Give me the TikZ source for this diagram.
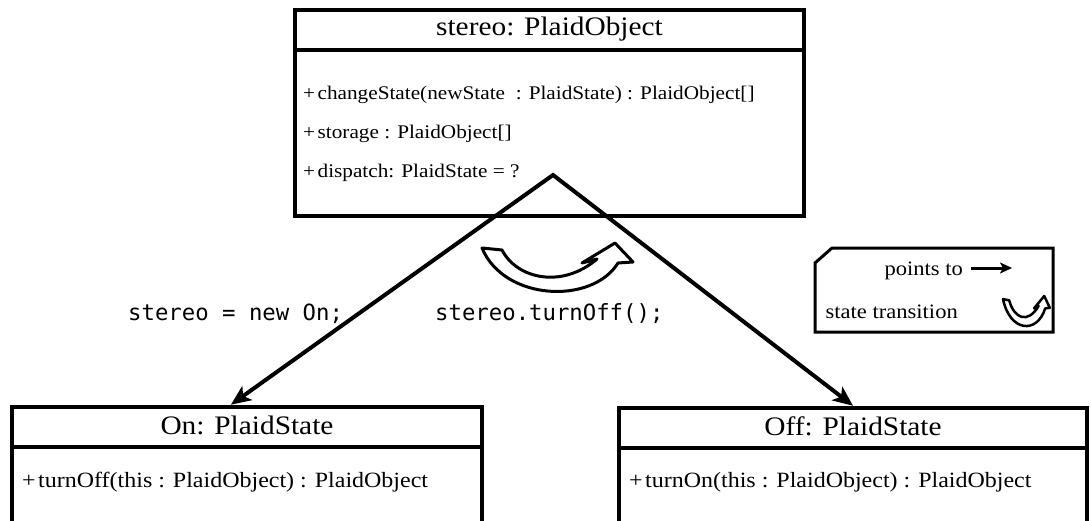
\documentclass[tikz,border=0pt]{standalone}
\usepackage{fontspec}
\setmainfont{Liberation Serif}[FakeStretch=1.1]
\setmonofont{DejaVu Sans Mono}
\usetikzlibrary{arrows.meta,calc}

\tikzset{
  % hollow curved arrow used for a state transition
  turnarrow/.pic={
    \draw[line join=round, fill=white]
      (0,5) -- (20,7) .. controls (35,36) and (80,46) .. (115,16)
      -- (100,20) -- (133,0) -- (151,19) -- (136,20)
      .. controls (110,62) and (22,58) .. (0,5) -- cycle;
  }
}
\newcommand{\plus}{+\kern2.5pt}

\begin{document}
\begin{tikzpicture}[x=1pt, y=-1pt,
  classbox/.style={draw=black, line width=4.5pt, rectangle, inner sep=0pt},
  divider/.style={draw=black, line width=4.5pt},
  classtitle/.style={anchor=base, inner sep=0pt, font=\fontsize{26.7}{30}\selectfont},
  member/.style={anchor=base west, inner sep=0pt, font=\fontsize{19.3}{22}\selectfont},
  opmember/.style={anchor=base west, inner sep=0pt, font=\fontsize{21.8}{25}\selectfont},
  code/.style={anchor=base west, inner sep=0pt, font=\ttfamily\fontsize{22.3}{26}\selectfont},
  legendtext/.style={anchor=base east, inner sep=0pt, font=\fontsize{20.5}{24}\selectfont},
  pointer/.style={line width=4pt, line join=miter},
]
\clip (0,0) rectangle (1091,521);
\fill[white] (0,0) rectangle (1091,521);

% the object
\node[classbox, minimum width=509pt, minimum height=206pt] (stereo) at (549.5,113) {};
\draw[divider] (stereo.west |- 0,50) -- (stereo.east |- 0,50);
\node[classtitle] (stereotitle) at (549.5,36) {stereo: PlaidObject};
\node[member] (changestate) at (303,100) {\plus changeState(newState\ \ : PlaidState) : PlaidObject[]};
\node[member] (storage) at (303,139) {\plus storage : PlaidObject[]};
\node[member] (dispatch) at (303,178) {\plus dispatch: PlaidState = ?};

% the two states
\node[classbox, minimum width=470pt, minimum height=153pt] (on) at (247,483.5) {};
\draw[divider] (on.west |- 0,447) -- (on.east |- 0,447);
\node[classtitle] (ontitle) at (247,434) {On: PlaidState};
\node[opmember] (turnoff) at (22,487) {\plus turnOff(this : PlaidObject) : PlaidObject};

\node[classbox, minimum width=468pt, minimum height=153pt] (off) at (853,484.5) {};
\draw[divider] (off.west |- 0,448) -- (off.east |- 0,448);
\node[classtitle] (offtitle) at (853,435) {Off: PlaidState};
\node[opmember] (turnon) at (629,487) {\plus turnOn(this : PlaidObject) : PlaidObject};

% dispatch pointers
\coordinate (apex) at (553,175);
\coordinate (ontip) at ($(on.north west)!0.466!(on.north east)$);
\coordinate (offtip) at (off.north);
\draw[pointer, {Stealth[length=20pt,width=17pt,inset=5pt]}-{Stealth[length=20pt,width=17pt,inset=5pt]}]
  (ontip) -- (apex) -- (offtip);

% code labels
\node[code] (newon) at (128,320) {stereo = new On;};
\node[code] (callturnoff) at (435,320) {stereo.turnOff();};

% transition arrow
\pic[line width=3pt] (transition) at (482,243) {turnarrow};

% legend
\draw[line width=3pt, line join=miter, fill=white]
  (832,248) -- (1053,248) -- (1053,332) -- (815,332) -- (815,263) -- cycle;
\node[legendtext] (pointslabel) at (963,275) {points to};
\node[legendtext] (translabel) at (958,318) {state transition};
\coordinate (keystart) at (971,268);
\coordinate (keyend) at (1012,268);
\draw[line width=3pt, -{Stealth[length=12pt,width=11pt,inset=3pt]}] (keystart) -- (keyend);
\pic[line width=2.5pt, xscale=0.31, yscale=0.62] (keyturn) at (1003,296) {turnarrow};
\end{tikzpicture}
\end{document}
